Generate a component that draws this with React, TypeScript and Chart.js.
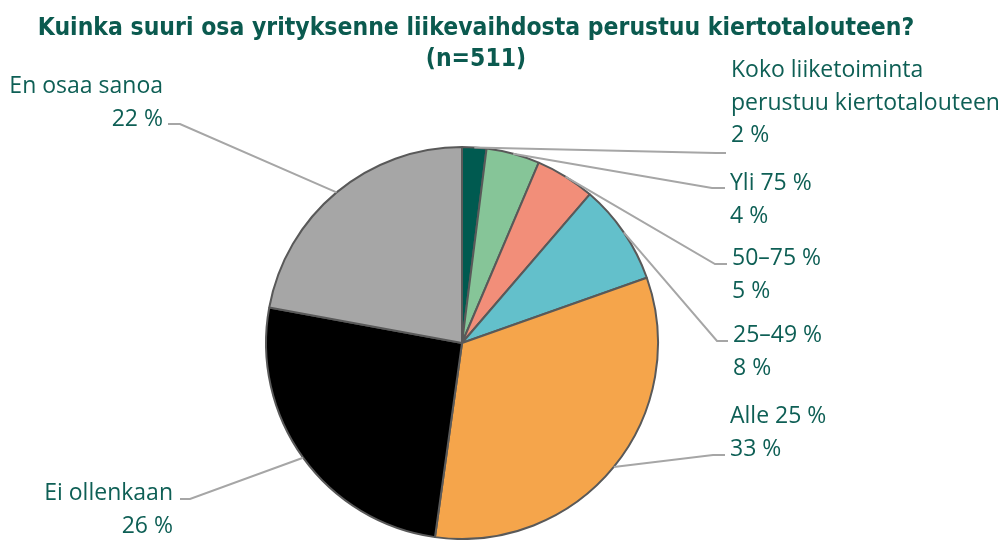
import React, { useEffect, useRef } from "react";
import { Chart, registerables } from "chart.js";

Chart.register(...registerables);

const titleLines = [
  "Kuinka suuri osa yrityksenne liikevaihdosta perustuu kiertotalouteen?",
  "(n=511)",
];

const categories = [
  "Koko liiketoiminta perustuu kiertotalouteen",
  "Yli 75 %",
  "50–75 %",
  "25–49 %",
  "Alle 25 %",
  "Ei ollenkaan",
  "En osaa sanoa",
];

const categoryLines = [
  ["Koko liiketoiminta", "perustuu kiertotalouteen"],
  ["Yli 75 %"],
  ["50–75 %"],
  ["25–49 %"],
  ["Alle 25 %"],
  ["Ei ollenkaan"],
  ["En osaa sanoa"],
];

const values = [2.0, 4.4, 4.9, 8.3, 32.6, 25.7, 22.1];

const percentLabels = ["2 %", "4 %", "5 %", "8 %", "33 %", "26 %", "22 %"];

const sliceColors = [
  "#005a50",
  "#86c598",
  "#f28e79",
  "#63c0cb",
  "#f5a54b",
  "#000000",
  "#a6a6a6",
];

// label placement: text anchor, first baseline, leader elbow, leader end
const labelLayout = [
  { align: "left", x: 731, y: 77, ex: 716, ey: 153, tx: 726 },
  { align: "left", x: 730, y: 190, ex: 712, ey: 188, tx: 725 },
  { align: "left", x: 732, y: 265, ex: 715, ey: 264, tx: 727 },
  { align: "left", x: 733, y: 342, ex: 717, ey: 341, tx: 728 },
  { align: "left", x: 730, y: 423, ex: 713, ey: 455, tx: 725 },
  { align: "right", x: 173, y: 500, ex: 190, ey: 499, tx: 180 },
  { align: "right", x: 163, y: 93, ex: 180, ey: 124, tx: 168 },
];

const TEXT_COLOR = "#0e5f55";
const TITLE_COLOR = "#0b5a4f";
const LINE_COLOR = "#a6a6a6";
const LABEL_FONT = '23px "Open Sans"';
const LINE_HEIGHT = 32.5;

const annotatePlugin = {
  id: "annotate",
  afterDraw(chart: any) {
    const ctx = chart.ctx as CanvasRenderingContext2D;
    const meta = chart.getDatasetMeta(0);
    ctx.save();

    // title
    ctx.fillStyle = TITLE_COLOR;
    ctx.textAlign = "center";
    ctx.textBaseline = "alphabetic";
    ctx.font = 'bold 100px "DejaVu Sans"';
    const w = ctx.measureText(titleLines[0]).width;
    const size = (100 * 877) / w;
    ctx.font = `bold ${size}px "DejaVu Sans"`;
    const vs = 1.1;
    ctx.save();
    ctx.scale(1, vs);
    ctx.fillText(titleLines[0], 476, 35 / vs);
    ctx.fillText(titleLines[1], 476, 66 / vs);
    ctx.restore();

    // leader lines
    ctx.strokeStyle = LINE_COLOR;
    ctx.lineWidth = 2;
    meta.data.forEach((arc: any, i: number) => {
      const p = arc.getProps(["x", "y", "startAngle", "endAngle", "outerRadius"], true);
      const mid = (p.startAngle + p.endAngle) / 2;
      const sx = p.x + Math.cos(mid) * p.outerRadius;
      const sy = p.y + Math.sin(mid) * p.outerRadius;
      const L = labelLayout[i];
      ctx.beginPath();
      ctx.moveTo(sx, sy);
      ctx.lineTo(L.ex, L.ey);
      ctx.lineTo(L.tx, L.ey);
      ctx.stroke();
    });

    // labels
    ctx.fillStyle = TEXT_COLOR;
    ctx.font = LABEL_FONT;
    labelLayout.forEach((L, i) => {
      ctx.textAlign = L.align as CanvasTextAlign;
      const lines = [...categoryLines[i], percentLabels[i]];
      lines.forEach((t, j) => {
        ctx.fillText(t, L.x, L.y + j * LINE_HEIGHT);
      });
    });
    ctx.restore();
  },
};

export default function App() {
  const ref = useRef<HTMLCanvasElement>(null);
  useEffect(() => {
    if (!ref.current) return;
    const chart = new Chart(ref.current, {
      type: "pie",
      data: {
        labels: categories,
        datasets: [
          {
            data: values,
            backgroundColor: sliceColors,
            borderColor: "#595959",
            borderWidth: 2,
          },
        ],
      },
      options: {
        responsive: false,
        animation: false,
        layout: { padding: { left: 265, right: 347, top: 146, bottom: 0 } },
        plugins: {
          legend: { display: false },
          tooltip: { enabled: false },
          title: { display: false },
        },
      },
      plugins: [annotatePlugin],
    });
    return () => chart.destroy();
  }, []);
  return (
    <div style={{ position: "fixed", left: 0, top: 0, width: 1006, height: 540, background: "#fff" }}>
      <canvas ref={ref} width={1006} height={540} style={{ width: 1006, height: 540 }} />
    </div>
  );
}
